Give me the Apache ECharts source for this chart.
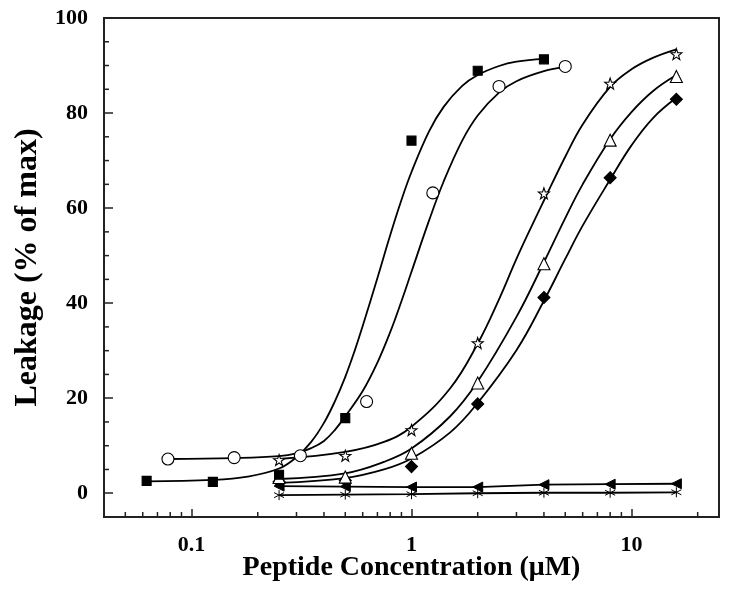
<!DOCTYPE html>
<html>
<head>
<meta charset="utf-8">
<script src="https://cdn.jsdelivr.net/npm/echarts@6/dist/echarts.min.js"></script>
<style>html,body{margin:0;padding:0;background:#fff}#c{width:729px;height:595px}</style>
</head>
<body>
<div id="c"></div>
<script>
// ---- axis ranges / tick labels ----
const X_MIN = 0.04, X_MAX = 25;
const Y_MIN = -5, Y_MAX = 100;
const xTickLabels = ['0.1', '1', '10'];
const yTickLabels = ['0', '20', '40', '60', '80', '100'];
const xMinorTicks = [0.05,0.06,0.07,0.08,0.09,0.2,0.3,0.4,0.5,0.6,0.7,0.8,0.9,2,3,4,5,6,7,8,9,20];
const yMinorTicks = [5,10,15,25,30,35,45,50,55,65,70,75,85,90,95];

// ---- measured points ----
const squareX = [0.0625, 0.125, 0.25, 0.5, 1, 2, 4];
const squareY = [2.6, 2.4, 3.9, 15.8, 74.2, 88.9, 91.3];
const circleX = [0.078125, 0.15625, 0.3125, 0.625, 1.25, 2.5, 5];
const circleY = [7.2, 7.5, 7.9, 19.3, 63.2, 85.6, 89.8];
const starX = [0.25, 0.5, 1, 2, 4, 8, 16];
const starY = [7.0, 7.9, 13.3, 31.6, 63.1, 86.2, 92.4];
const triX = [0.25, 0.5, 1, 2, 4, 8, 16];
const triY = [3.3, 3.4, 8.4, 23.2, 48.3, 74.3, 87.7];
const diaX = [0.25, 0.5, 1, 2, 4, 8, 16];
const diaY = [2.4, 2.7, 5.6, 18.8, 41.2, 66.4, 82.9];
const leftTriX = [0.25, 0.5, 1, 2, 4, 8, 16];
const leftTriY = [1.5, 1.4, 1.3, 1.3, 1.8, 1.9, 2.0];
const asterX = [0.25, 0.5, 1, 2, 4, 8, 16];
const asterY = [-0.4, -0.3, -0.2, 0.0, 0.1, 0.1, 0.2];

// ---- fitted curves ----
const squareFitX = [0.0625,0.125,0.18,0.25,0.3,0.35,0.4,0.45,0.5,0.55,0.6,0.7,0.8,0.9,1.0,1.2,1.4,1.7,2,2.5,3,4];
const squareFitY = [2.5,2.8,3.5,5.2,7.6,10.8,14.8,19.5,24.5,29.8,35.2,45.3,54.3,61.7,67.6,76.1,81.3,85.7,88.0,89.9,90.8,91.4];
const circleFitX = [0.078125,0.156,0.25,0.3,0.35,0.4,0.45,0.5,0.6,0.7,0.8,0.9,1.0,1.2,1.4,1.7,2,2.5,3,4,5];
const circleFitY = [7.2,7.4,7.8,8.4,9.5,11.0,13.4,16.2,21.5,27.5,33.9,40.4,46.6,57.3,65.6,74.2,79.5,84.3,86.7,88.8,89.7];
const starFitX = [0.25,0.5,0.75,1,1.5,2,2.5,3,3.5,4,5,6,8,10,12.5,16];
const starFitY = [7.2,8.7,10.8,14.0,22.1,31.5,40.8,49.3,56.0,61.6,70.8,77.6,85.5,89.2,91.6,93.4];
const triFitX = [0.25,0.5,0.75,1,1.5,2,3,4,5,6,8,10,12.5,16];
const triFitY = [3.0,4.2,6.6,9.4,16.2,23.5,37.1,48.6,57.9,65.0,74.5,80.2,84.6,88.0];
const diaFitX = [0.25,0.5,0.75,1,1.5,2,3,4,5,6,8,10,12.5,16];
const diaFitY = [2.2,3.2,5.0,7.3,12.8,19.0,30.1,40.5,49.3,56.3,66.0,73.2,78.9,83.2];

const zip = (xs, ys) => xs.map((x, i) => [x, ys[i]]);
const FONT = 'Liberation Serif';
const STAR = 'path://M0,-10 L2.35,-3.24 L9.51,-3.09 L3.80,1.24 L5.88,8.09 L0,4 L-5.88,8.09 L-3.80,1.24 L-9.51,-3.09 L-2.35,-3.24 Z';
const ASTER = 'path://M0,-10 L0,10 M-8.66,-5 L8.66,5 M-8.66,5 L8.66,-5';

function fit(xs, ys) {
  return { type: 'line', data: zip(xs, ys), symbol: 'none', smooth: 0.4, z: 2,
    lineStyle: { color: '#000', width: 1.8 } };
}
function pts(xs, ys, symbol, size, filled, extra) {
  return Object.assign({ type: 'scatter', data: zip(xs, ys), symbol: symbol, symbolSize: size, z: 5,
    itemStyle: { color: filled ? '#000' : '#fff', borderColor: '#000', borderWidth: 1.1, opacity: 1 } }, extra || {});
}

const chart = echarts.init(document.getElementById('c'), null, { renderer: 'canvas' });
chart.setOption({
  backgroundColor: '#fff',
  animation: false,
  grid: { left: 104, right: 10, top: 18, bottom: 78, show: true, borderColor: '#222', borderWidth: 2, backgroundColor: 'transparent' },
  xAxis: {
    type: 'log', logBase: 10, min: X_MIN, max: X_MAX,
    name: 'Peptide Concentration (\u03bcM)', nameLocation: 'middle', nameGap: 37, nameMoveOverlap: false,
    nameTextStyle: { fontFamily: FONT, fontWeight: 'bold', fontSize: 28, color: '#000' },
    axisLine: { show: true, onZero: false, lineStyle: { color: '#222', width: 2 } },
    axisTick: { show: true, inside: true, length: 8, lineStyle: { color: '#222', width: 1.5 } },
    splitLine: { show: false },
    axisLabel: { margin: 17, fontFamily: FONT, fontWeight: 'bold', fontSize: 22, color: '#000',
      showMinLabel: false, showMaxLabel: false,
      formatter: v => { const s = xTickLabels.find(t => Math.abs(parseFloat(t) - v) < 1e-9 * Math.max(1, v)); return s || ''; } }
  },
  yAxis: {
    type: 'value', min: Y_MIN, max: Y_MAX,
    name: 'Leakage (% of max)', nameLocation: 'middle', nameGap: 58, nameRotate: 90,
    nameTextStyle: { fontFamily: FONT, fontWeight: 'bold', fontSize: 32, color: '#000' },
    axisLine: { show: true, onZero: false, lineStyle: { color: '#222', width: 2 } },
    axisTick: { show: true, inside: true, length: 9, lineStyle: { color: '#222', width: 1.5 } },
    splitLine: { show: false },
    axisLabel: { margin: 16, fontFamily: FONT, fontWeight: 'bold', fontSize: 22, color: '#000',
      showMinLabel: false,
      formatter: v => { const s = yTickLabels.find(t => Math.abs(parseFloat(t) - v) < 1e-9); return s || ''; } }
  },
  series: [
    { type: 'custom', data: xMinorTicks.map(v => [v, Y_MIN]), z: 10, silent: true,
      renderItem: (params, api) => { const p = api.coord([api.value(0), Y_MIN]);
        return { type: 'line', shape: { x1: p[0], y1: p[1], x2: p[0], y2: p[1] - 5 }, style: { stroke: '#222', lineWidth: 1.5 } }; } },
    { type: 'custom', data: yMinorTicks.map(v => [X_MIN, v]), z: 10, silent: true,
      renderItem: (params, api) => { const p = api.coord([X_MIN, api.value(1)]);
        return { type: 'line', shape: { x1: p[0], y1: p[1], x2: p[0] + 5, y2: p[1] }, style: { stroke: '#222', lineWidth: 1.5 } }; } },
    fit(squareFitX, squareFitY),
    fit(circleFitX, circleFitY),
    fit(starFitX, starFitY),
    fit(triFitX, triFitY),
    fit(diaFitX, diaFitY),
    { type: 'line', data: zip(leftTriX, leftTriY), symbol: 'triangle', symbolRotate: 90, symbolSize: 10, z: 4,
      lineStyle: { color: '#000', width: 1.8 }, itemStyle: { color: '#000', borderColor: '#000' } },
    { type: 'line', data: zip(asterX, asterY), symbol: ASTER, symbolSize: 10, z: 4,
      lineStyle: { color: '#000', width: 1.8 }, itemStyle: { color: '#000', borderColor: '#000', borderWidth: 1 } },
    pts(diaX, diaY, 'diamond', 12, true),
    pts(triX, triY, 'triangle', 12, false),
    pts(starX, starY, STAR, 11, false),
    pts(squareX, squareY, 'rect', 9, true),
    pts(circleX, circleY, 'circle', 12, false)
  ]
});
</script>
</body>
</html>
